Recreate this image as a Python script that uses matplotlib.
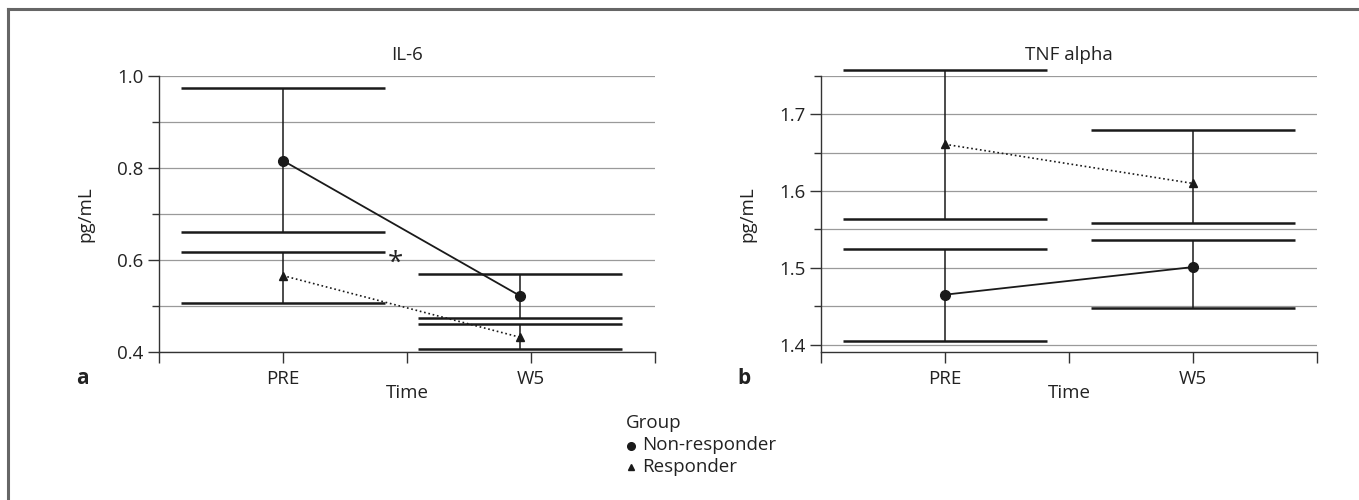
import matplotlib
matplotlib.use("Agg")
import matplotlib.pyplot as plt
from matplotlib.lines import Line2D
from matplotlib.ticker import MultipleLocator
import numpy as np

plt.rcParams['font.family'] = ['Open Sans', 'DejaVu Sans']

# ---------------- data ----------------
categories = ["PRE", "W5"]
groups = ["Non-responder", "Responder"]

il6_nonresp_mean = [0.816, 0.522]
il6_nonresp_upper = [0.973, 0.570]
il6_nonresp_lower = [0.661, 0.473]
il6_resp_mean = [0.566, 0.432]
il6_resp_upper = [0.618, 0.461]
il6_resp_lower = [0.506, 0.406]

tnf_nonresp_mean = [1.465, 1.501]
tnf_nonresp_upper = [1.525, 1.536]
tnf_nonresp_lower = [1.405, 1.448]
tnf_resp_mean = [1.661, 1.610]
tnf_resp_upper = [1.758, 1.680]
tnf_resp_lower = [1.564, 1.558]

# ---------------- layout ----------------
W, H = 1359, 500
fig = plt.figure(figsize=(W / 100, H / 100), dpi=100)

def px_box(x0, y0, x1, y1):
    return [x0 / W, 1 - y1 / H, (x1 - x0) / W, (y1 - y0) / H]

ax1 = fig.add_axes(px_box(159, 76, 655, 352))
ax2 = fig.add_axes(px_box(821, 76, 1317, 352))

FS = 13.5
CAP_HW = 0.41
GRID_C = '#9a9a9a'
INK = '#1a1a1a'
TXT = '#222222'


def draw_panel(ax, title, xpos, series, ylim, major, minor, letter, letter_x):
    ax.set_xlim(-0.5, 1.5)
    ax.set_ylim(*ylim)
    for s in ["top", "right"]:
        ax.spines[s].set_visible(False)
    for s in ["left", "bottom"]:
        ax.spines[s].set_color('#333333')
        ax.spines[s].set_linewidth(1.0)
    ax.yaxis.set_major_locator(MultipleLocator(major))
    ax.yaxis.set_minor_locator(MultipleLocator(minor))
    ax.yaxis.set_major_formatter(plt.FuncFormatter(lambda v, p: f"{v:.1f}"))
    ax.set_xticks([-0.5, 0, 0.5, 1, 1.5])
    ax.set_xticklabels(["", categories[0], "", categories[1], ""])
    ax.tick_params(axis='both', which='major', length=8, width=1.0, color='#333333',
                   labelsize=FS, labelcolor=TXT)
    ax.tick_params(axis='y', which='minor', length=5, width=1.0, color='#333333')
    ax.tick_params(axis='x', pad=5)
    ax.tick_params(axis='y', pad=3)
    ax.grid(True, which='both', axis='y', color=GRID_C, linewidth=0.9)
    ax.set_axisbelow(True)

    for mean, lower, upper, marker, ls, ms in series:
        ax.plot(xpos, mean, color=INK, linestyle=ls, linewidth=1.3 if ls == '-' else 1.2,
                marker=marker, markersize=ms, zorder=4, clip_on=False)
        for x, lo, hi in zip(xpos, lower, upper):
            ax.vlines(x, lo, hi, color=INK, linewidth=1.1, zorder=3, clip_on=False)
            ax.hlines([lo, hi], x - CAP_HW, x + CAP_HW, color=INK, linewidth=1.8,
                      zorder=3, clip_on=False)

    ax.text(0.5, 1 + 21 / 276, title, transform=ax.transAxes, ha='center', va='center',
            fontsize=FS, color=TXT)
    ax.text(0.5, -41 / 276, "Time", transform=ax.transAxes, ha='center', va='center',
            fontsize=FS, color=TXT)
    ax.text(-74 / 496, 0.5, "pg/mL", transform=ax.transAxes, ha='center', va='center',
            rotation=90, fontsize=FS, color=TXT)
    fig.text(letter_x / W, 1 - 378 / H, letter, ha='center', va='center', fontsize=FS + 1.5,
             fontweight='bold', color=TXT)


draw_panel(ax1, "IL-6", np.array([0.0, 0.956]),
           [(il6_nonresp_mean, il6_nonresp_lower, il6_nonresp_upper, 'o', '-', 7),
            (il6_resp_mean, il6_resp_lower, il6_resp_upper, '^', ':', 5.5)],
           (0.4, 1.0), 0.2, 0.1, "a", 82)
draw_panel(ax2, "TNF alpha", np.array([0.0, 1.0]),
           [(tnf_nonresp_mean, tnf_nonresp_lower, tnf_nonresp_upper, 'o', '-', 7),
            (tnf_resp_mean, tnf_resp_lower, tnf_resp_upper, '^', ':', 5.5)],
           (1.3903, 1.75), 0.1, 0.05, "b", 744)

# significance asterisk
ax1.text(0.452, 0.592, "*", ha='center', va='center', fontsize=20, color=TXT)

# legend
fig.text(626 / W, 1 - 423 / H, "Group", ha='left', va='center', fontsize=FS, color=TXT)
fig.add_artist(Line2D([631 / W], [1 - 446 / H], marker='o', markersize=5.5, color=INK,
                      linestyle='none', transform=fig.transFigure))
fig.add_artist(Line2D([631 / W], [1 - 467 / H], marker='^', markersize=5, color=INK,
                      linestyle='none', transform=fig.transFigure))
fig.text(642 / W, 1 - 445 / H, groups[0], ha='left', va='center', fontsize=FS, color=TXT)
fig.text(642 / W, 1 - 467 / H, groups[1], ha='left', va='center', fontsize=FS, color=TXT)

# frame
fig.add_artist(Line2D([8 / W, 1], [1 - 9 / H, 1 - 9 / H], color='#666666', linewidth=2.2,
                      transform=fig.transFigure))
fig.add_artist(Line2D([8 / W, 8 / W], [0, 1 - 9 / H], color='#666666', linewidth=2.2,
                      transform=fig.transFigure))

fig.savefig("out.png", dpi=100)
